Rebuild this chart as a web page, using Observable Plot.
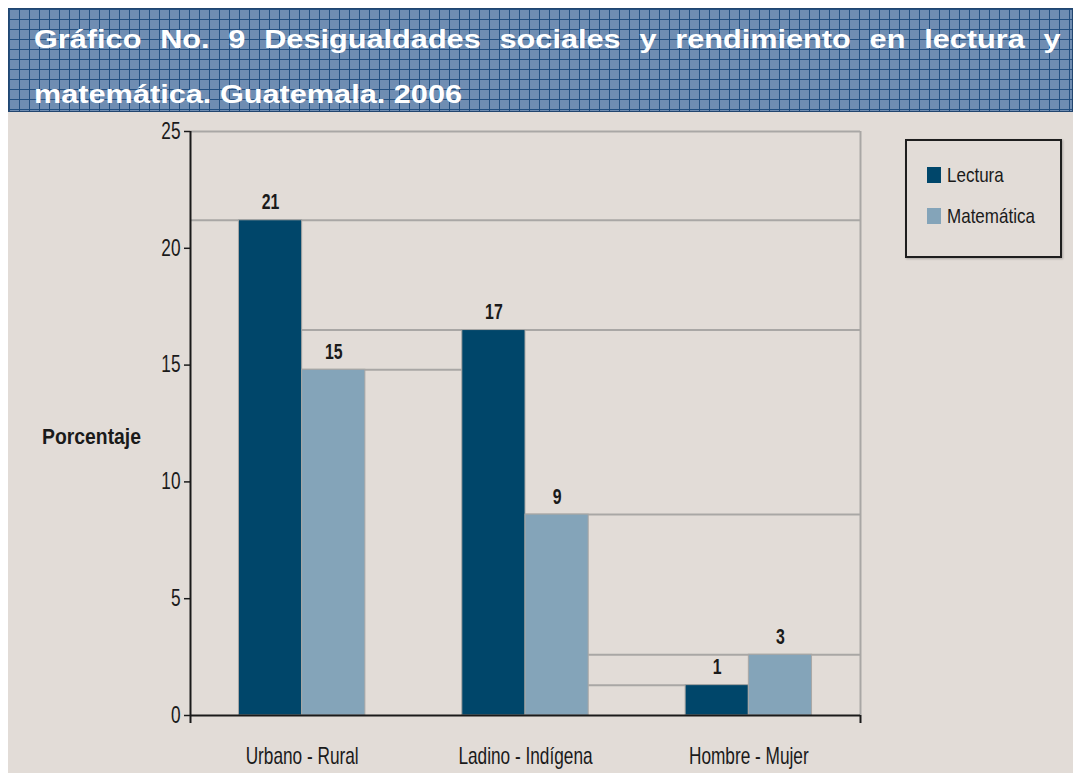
<!DOCTYPE html>
<html>
<head>
<meta charset="utf-8">
<script src="https://cdn.jsdelivr.net/npm/d3@7"></script>
<script src="https://cdn.jsdelivr.net/npm/@observablehq/plot@0.6"></script>
<style>
  html, body { margin: 0; padding: 0; background: #ffffff; }
  #wrap { position: relative; width: 1073px; height: 778px; overflow: hidden; }
  #title {
    position: absolute; left: 8px; top: 8px; width: 1065px; height: 104px;
    box-sizing: border-box; padding: 3px 12px 0 25px;
    background-color: #6f8db2;
    background-image:
      linear-gradient(#234f80 1px, transparent 1px),
      linear-gradient(90deg, #234f80 1px, transparent 1px);
    background-size: 10px 10px;
    border: 1px solid #23466f;
  }
  #title .txt {
    width: 870px; transform: scaleX(1.18); transform-origin: left top;
    color: #ffffff; font-family: "Liberation Sans", Arial, sans-serif;
    font-weight: bold; font-size: 26px; line-height: 55px; white-space: nowrap;
  }
  #title .l1 { display: block; text-align: justify; text-align-last: justify; }
  #chart { position: absolute; left: 8px; top: 112px; }
  #ylabel {
    position: absolute; left: 42px; top: 424px;
    font-family: "Liberation Sans", Arial, sans-serif;
    font-weight: bold; font-size: 22px; color: #1a1a1a;
    transform: scaleX(0.88); transform-origin: left center;
  }
  #legend {
    position: absolute; left: 905px; top: 139px; width: 157px; height: 119px;
    box-sizing: border-box; border: 2px solid #1e1e1e;
    box-shadow: 1px 1px 2px rgba(0,0,0,0.25);
    font-family: "Liberation Sans", Arial, sans-serif;
    font-size: 21px; color: #1a1a1a;
  }
  .item { position: absolute; left: 20px; display: flex; align-items: center; }
  .sw { width: 14px; height: 16px; margin-right: 6px; flex: none; }
  .lt { display: inline-block; transform: scaleX(0.81); transform-origin: left center; }
</style>
</head>
<body>
<div id="wrap">
  <div id="title"><div class="txt"><span class="l1">Gráfico No. 9 Desigualdades sociales y rendimiento en lectura y</span>matemática. Guatemala. 2006</div></div>
  <div id="chart"></div>
  <div id="ylabel">Porcentaje</div>
  <div id="legend"></div>
</div>
<script>
// ---- data ----
const categorias = ["Urbano - Rural", "Ladino - Indígena", "Hombre - Mujer"];
const series = ["Lectura", "Matemática"];
const lectura = [21.2, 16.5, 1.3];
const matematica = [14.8, 8.6, 2.6];
const colores = ["#00466a", "#84a4b9"];
const yTicks = [0, 5, 10, 15, 20, 25];

// ---- layout in group units (each category occupies one unit on x) ----
const inicio = 0.217, ancho = 0.283;
const valores = [lectura, matematica];
const barras = [];
categorias.forEach((c, i) => series.forEach((s, j) => {
  barras.push({cat: c, serie: s, v: valores[j][i],
    x1: i + inicio + j * ancho, x2: i + inicio + (j + 1) * ancho});
}));
// "water level" lines: each bar's height extends left/right until a taller bar
const niveles = barras.map((b, k) => {
  let left = 0, right = categorias.length;
  for (let m = k - 1; m >= 0; m--) if (barras[m].v > b.v) { left = barras[m].x2; break; }
  for (let m = k + 1; m < barras.length; m++) if (barras[m].v > b.v) { right = barras[m].x1; break; }
  return {v: b.v, left, right};
});

const gris = "#a9a7a5";
const fuente = "'Liberation Sans', Arial, sans-serif";

const plot = Plot.plot({
  width: 1065, height: 661,
  marginLeft: 182, marginRight: 213, marginTop: 19, marginBottom: 58,
  style: {background: "#e2dcd7", fontFamily: fuente, fontSize: "23px", color: "#1a1a1a", overflow: "visible"},
  x: {type: "linear", domain: [0, categorias.length], axis: null},
  y: {domain: [0, 25], axis: null},
  color: {domain: series, range: colores},
  marks: [
    Plot.ruleY([25], {stroke: gris, strokeWidth: 2}),
    Plot.ruleX([categorias.length], {stroke: gris, strokeWidth: 2}),
    Plot.ruleY(niveles, {y: "v", x1: "left", x2: "right", stroke: gris, strokeWidth: 2}),
    Plot.rectY(barras, {x1: "x1", x2: "x2", y1: 0, y2: "v", fill: "serie", stroke: gris, strokeWidth: 1}),
    Plot.text(barras, {x: d => (d.x1 + d.x2) / 2, y: "v", text: d => String(Math.round(d.v)),
      dy: -18, fontWeight: "bold", fontSize: 22, fill: "#1a1a1a"}),
    Plot.axisY({ticks: yTicks, label: null, tickSize: 6, tickPadding: 4, fontSize: 23, stroke: "#1a1a1a", strokeWidth: 1.5}),
    Plot.ruleX([0], {stroke: "#1a1a1a", strokeWidth: 2}),
    Plot.ruleY([0], {stroke: "#1a1a1a", strokeWidth: 2}),
    Plot.axisX({ticks: [0, categorias.length], label: null, tickSize: 8, tickFormat: () => "", stroke: "#1a1a1a", strokeWidth: 2}),
    Plot.axisX({ticks: categorias.map((c, i) => i + 0.5), label: null, tickSize: 0, tickPadding: 32,
      tickFormat: d => categorias[Math.floor(d)], fontSize: 23})
  ]
});
document.getElementById("chart").appendChild(plot);

// condensed look of the original chart's text
d3.select(plot).selectAll("text").each(function () {
  const bold = this.closest("[font-weight=bold]") || this.getAttribute("font-weight") === "bold";
  const t = this.getAttribute("transform") || "";
  this.setAttribute("transform", t + ` scale(${bold ? 0.72 : 0.75},1)`);
});

// legend
const leg = document.getElementById("legend");
series.forEach((s, j) => {
  const it = document.createElement("div");
  it.className = "item";
  it.style.top = (22 + j * 41) + "px";
  it.innerHTML = `<span class="sw" style="background:${colores[j]}"></span><span class="lt">${s}</span>`;
  leg.appendChild(it);
});
</script>
</body>
</html>
